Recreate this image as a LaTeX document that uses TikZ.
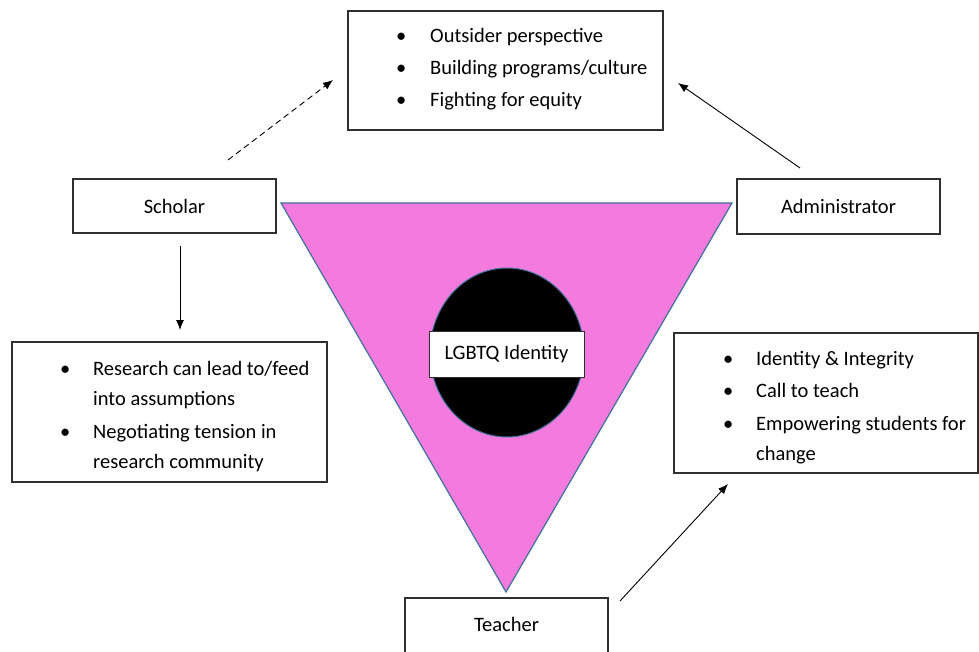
\documentclass[tikz,border=0pt]{standalone}
\usepackage{fontspec}
\setmainfont{Carlito}
\usetikzlibrary{arrows.meta}
\definecolor{pinkfill}{HTML}{F27BDD}
\definecolor{triborder}{HTML}{41719C}
\definecolor{boxborder}{HTML}{303030}
\tikzset{
  box/.style={draw=boxborder, line width=1.2pt, fill=white, rectangle, inner sep=0pt},
  lbl/.style={font=\fontsize{20.5}{24}\selectfont, inner sep=0pt},
  blist/.style={font=\fontsize{20.5}{30}\selectfont, inner sep=0pt, anchor=base west},
  conn/.style={line width=0.9pt, -{Latex[length=10pt,width=8pt]}},
}
\newcommand{\bl}{\textbullet}
\begin{document}
\begin{tikzpicture}[x=1pt,y=-1pt]
\path[use as bounding box, clip] (0,0) rectangle (979,652);
\fill[white] (0,0) rectangle (979,652);
% triangle and centre
\filldraw[fill=pinkfill, draw=triborder, line width=1.2pt] (281,203) -- (732,203) -- (506,592) -- cycle;
\draw[fill=black, draw=triborder, line width=1pt] (507,352.5) ellipse [x radius=77pt, y radius=84.5pt];
\node[box, line width=1pt, minimum width=155pt, minimum height=46pt, lbl] (id) at (506.5,354.5) {LGBTQ Identity};
% boxes
\node[box, minimum width=315pt, minimum height=119pt] (top) at (505.5,70.5) {};
\node[box, minimum width=203pt, minimum height=54pt, lbl] (scholar) at (174.5,206) {Scholar};
\node[box, minimum width=203pt, minimum height=55pt, lbl] (admin) at (838.5,206.5) {Administrator};
\node[box, minimum width=315pt, minimum height=140pt] (left) at (169.5,412) {};
\node[box, minimum width=304pt, minimum height=140pt] (right) at (826,403) {};
\node[box, minimum width=203pt, minimum height=64pt] (teacher) at (506.5,630) {};
\node[lbl] (teachertext) at (506.5,624) {Teacher};
% lists
\node[blist] (toplist) at (396,43) {\begin{tabular}[t]{@{}p{34pt}@{}l@{}}
\bl & Outsider perspective\\[2pt]
\bl & Building programs/culture\\[2pt]
\bl & Fighting for equity
\end{tabular}};
\node[blist] (leftlist) at (60,375) {\begin{tabular}[t]{@{}p{33pt}@{}l@{}}
\bl & Research can lead to/feed\\
 & into assumptions\\[3pt]
\bl & Negotiating tension in\\
 & research community
\end{tabular}};
\node[blist] (rightlist) at (723,365) {\begin{tabular}[t]{@{}p{33pt}@{}l@{}}
\bl & Identity \& Integrity\\[2.5pt]
\bl & Call to teach\\[2.5pt]
\bl & Empowering students for\\
 & change
\end{tabular}};
% connectors
\coordinate (s1) at (228,160);
\coordinate (s2) at (333,80);
\coordinate (a1) at (800,168);
\coordinate (a2) at (678,83);
\coordinate (d1) at (180,246);
\coordinate (d2) at (180,330);
\coordinate (t1) at (620,601);
\coordinate (t2) at (728,484);
\draw[conn, dash pattern=on 6pt off 4pt] (s1) -- (s2);
\draw[conn] (a1) -- (a2);
\draw[conn] (d1) -- (d2);
\draw[conn] (t1) -- (t2);
\end{tikzpicture}
\end{document}
